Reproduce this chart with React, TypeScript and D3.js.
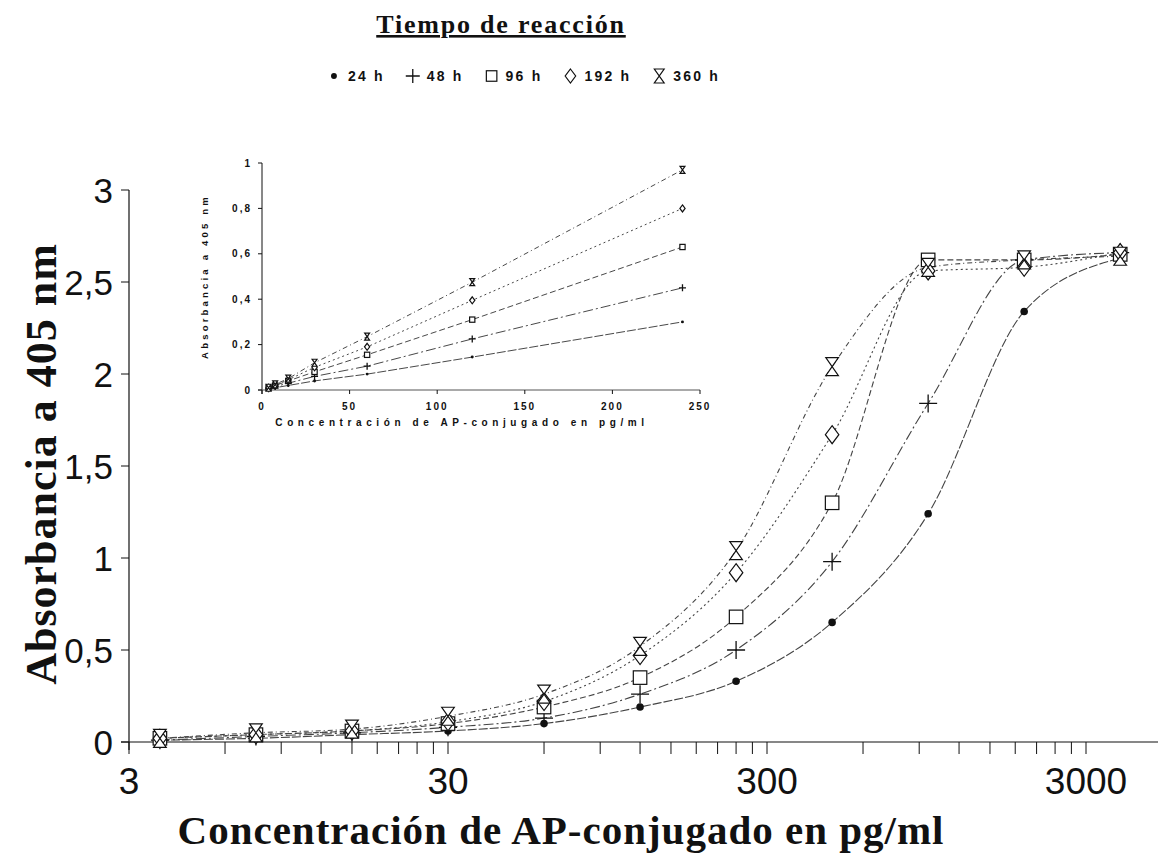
import * as d3 from 'd3';
import React, { useEffect, useRef } from 'react';

// concentraciones (pg/ml) y absorbancias
const concentraciones = [3.75, 7.5, 15, 30, 60, 120, 240, 480, 960, 1920, 3840];
const abs24h = [0.01, 0.02, 0.04, 0.06, 0.1, 0.19, 0.33, 0.65, 1.24, 2.34, 2.63];
const abs48h = [0.01, 0.03, 0.05, 0.08, 0.13, 0.26, 0.5, 0.98, 1.84, 2.62, 2.66];
const abs96h = [0.02, 0.04, 0.06, 0.1, 0.19, 0.35, 0.68, 1.3, 2.62, 2.62, 2.65];
const abs192h = [0.02, 0.04, 0.06, 0.11, 0.22, 0.47, 0.92, 1.67, 2.56, 2.58, 2.66];
const abs360h = [0.02, 0.05, 0.07, 0.14, 0.26, 0.52, 1.04, 2.04, 2.58, 2.62, 2.64];

// grafico insertado (escala lineal)
const concInserto = [3.75, 7.5, 15, 30, 60, 120, 240];
const ins24h = [0.005, 0.01, 0.02, 0.04, 0.07, 0.145, 0.3];
const ins48h = [0.005, 0.015, 0.03, 0.06, 0.105, 0.225, 0.45];
const ins96h = [0.01, 0.02, 0.04, 0.08, 0.155, 0.31, 0.63];
const ins192h = [0.01, 0.02, 0.045, 0.1, 0.19, 0.395, 0.8];
const ins360h = [0.01, 0.025, 0.05, 0.12, 0.235, 0.475, 0.97];

const nombres = ['24 h', '48 h', '96 h', '192 h', '360 h'];
const simbolos = ['dot', 'plus', 'square', 'diamond', 'hourglass'];
const trazos = ['9,2', '10,3,2,3', '6,3', '2,3', '5,3,1,3'];

const xTickValues = [3, 30, 300, 3000];
const xTickLabels = ['3', '30', '300', '3000'];
const yTickValues = [0, 0.5, 1, 1.5, 2, 2.5, 3];
const yTickLabels = ['0', '0,5', '1', '1,5', '2', '2,5', '3'];
const insXTicks = [0, 50, 100, 150, 200, 250];
const insYTickValues = [0, 0.2, 0.4, 0.6, 0.8, 1];
const insYTickLabels = ['0', '0,2', '0,4', '0,6', '0,8', '1'];

const SANS = '"Liberation Sans", Arial, sans-serif';
const SERIF = '"Liberation Serif", "Times New Roman", serif';
const INK = '#111';

const drawSymbol = (g: any, kind: string, x: number, y: number, s: number) => {
  if (kind === 'dot') {
    g.append('circle').attr('cx', x).attr('cy', y).attr('r', s * 0.42).attr('fill', INK);
  } else if (kind === 'plus') {
    g.append('path')
      .attr('d', `M${x - s},${y}H${x + s}M${x},${y - s}V${y + s}`)
      .attr('stroke', INK).attr('stroke-width', 1.3).attr('fill', 'none');
  } else if (kind === 'square') {
    g.append('rect')
      .attr('x', x - s * 0.75).attr('y', y - s * 0.75)
      .attr('width', s * 1.5).attr('height', s * 1.5)
      .attr('stroke', INK).attr('stroke-width', 1.2).attr('fill', 'white');
  } else if (kind === 'diamond') {
    g.append('path')
      .attr('d', `M${x},${y - s}L${x + s * 0.75},${y}L${x},${y + s}L${x - s * 0.75},${y}Z`)
      .attr('stroke', INK).attr('stroke-width', 1.2).attr('fill', 'white');
  } else {
    g.append('path')
      .attr('d', `M${x - s * 0.7},${y - s}H${x + s * 0.7}L${x - s * 0.7},${y + s}H${x + s * 0.7}Z`)
      .attr('stroke', INK).attr('stroke-width', 1.2).attr('fill', 'white');
  }
};

const buildChart = (node: SVGSVGElement) => {
  const svg = d3.select(node);
  svg.selectAll('*').remove();

  const mainSeries = [abs24h, abs48h, abs96h, abs192h, abs360h];
  const insSeries = [ins24h, ins48h, ins96h, ins192h, ins360h];

  // --- grafico principal ---
  const decade = 319;
  const x = d3.scaleLog().domain([3, 5000]).range([129, 129 + decade * Math.log10(5000 / 3)]);
  const y = d3.scaleLinear().domain([0, 3]).range([742, 190]);

  const axes = svg.append('g').attr('stroke', INK).attr('fill', 'none');
  axes.append('line').attr('x1', 129).attr('x2', 129).attr('y1', y(3)).attr('y2', y(0) + 8).attr('stroke-width', 1.2);
  axes.append('line').attr('x1', 121).attr('x2', 1158).attr('y1', y(0)).attr('y2', y(0)).attr('stroke-width', 1.2);

  yTickValues.forEach((v, i) => {
    axes.append('line').attr('x1', 121).attr('x2', 129).attr('y1', y(v)).attr('y2', y(v));
    svg.append('text')
      .attr('x', 113).attr('y', y(v)).attr('dy', '0.36em')
      .attr('text-anchor', 'end')
      .style('font-family', SANS).style('font-size', '35px').attr('fill', INK)
      .text(yTickLabels[i]);
  });

  // marcas menores del eje logaritmico
  const minor: number[] = [];
  [3, 30, 300, 3000].forEach((base) => {
    for (let m = 1; m <= 9; m++) if (base * m <= 5000) minor.push(base * m);
  });
  minor.forEach((v) => {
    if (x(v) > 1158) return;
    axes.append('line').attr('x1', x(v)).attr('x2', x(v)).attr('y1', y(0)).attr('y2', y(0) + 12).attr('stroke-width', 1);
  });

  xTickValues.forEach((v, i) => {
    svg.append('text')
      .attr('x', x(v)).attr('y', 794)
      .attr('text-anchor', 'middle')
      .style('font-family', SANS).style('font-size', '37px').attr('fill', INK)
      .text(xTickLabels[i]);
  });

  const line = d3.line<number>()
    .x((d, i) => x(concentraciones[i]))
    .y((d) => y(d))
    .curve(d3.curveMonotoneX);

  mainSeries.forEach((serie, k) => {
    svg.append('path')
      .attr('d', line(serie))
      .attr('fill', 'none').attr('stroke', '#444').attr('stroke-width', 1.1)
      .attr('stroke-dasharray', trazos[k]);
  });
  mainSeries.forEach((serie, k) => {
    const g = svg.append('g');
    serie.forEach((v, i) => drawSymbol(g, simbolos[k], x(concentraciones[i]), y(v), 9));
  });

  svg.append('text')
    .attr('transform', `translate(56,${y(1.5) - 2}) rotate(-90)`)
    .attr('text-anchor', 'middle')
    .style('font-family', SERIF).style('font-size', '44px').style('font-weight', 'bold')
    .style('letter-spacing', '1px').attr('fill', INK)
    .text('Absorbancia a 405 nm');

  svg.append('text')
    .attr('x', 561).attr('y', 844)
    .attr('text-anchor', 'middle')
    .style('font-family', SERIF).style('font-size', '41px').style('font-weight', 'bold')
    .style('letter-spacing', '1px').attr('fill', INK)
    .text('Concentración de AP-conjugado en pg/ml');

  // --- grafico insertado ---
  const xi = d3.scaleLinear().domain([0, 250]).range([262, 700]);
  const yi = d3.scaleLinear().domain([0, 1]).range([390, 163]);
  const ins = svg.append('g');

  ins.append('line').attr('x1', xi(0)).attr('x2', xi(0)).attr('y1', yi(1)).attr('y2', yi(0) + 4).attr('stroke', INK);
  ins.append('line').attr('x1', xi(0) - 4).attr('x2', xi(250)).attr('y1', yi(0)).attr('y2', yi(0)).attr('stroke', '#555');

  insYTickValues.forEach((v, i) => {
    ins.append('line').attr('x1', xi(0) - 4).attr('x2', xi(0)).attr('y1', yi(v)).attr('y2', yi(v)).attr('stroke', INK);
    ins.append('text')
      .attr('x', xi(0) - 10).attr('y', yi(v)).attr('dy', '0.36em')
      .attr('text-anchor', 'end')
      .style('font-family', SANS).style('font-size', '10px').style('font-weight', 'bold')
      .style('letter-spacing', '2px').attr('fill', INK)
      .text(insYTickLabels[i]);
  });
  insXTicks.forEach((v) => {
    ins.append('line').attr('x1', xi(v)).attr('x2', xi(v)).attr('y1', yi(0)).attr('y2', yi(0) + 4).attr('stroke', INK);
    ins.append('text')
      .attr('x', xi(v)).attr('y', 410)
      .attr('text-anchor', 'middle')
      .style('font-family', SANS).style('font-size', '10px').style('font-weight', 'bold')
      .style('letter-spacing', '2px').attr('fill', INK)
      .text(String(v));
  });

  ins.append('text')
    .attr('x', 462).attr('y', 426)
    .attr('text-anchor', 'middle')
    .style('font-family', SANS).style('font-size', '10px').style('font-weight', 'bold')
    .style('letter-spacing', '4.6px').attr('fill', INK)
    .text('Concentración de AP-conjugado en pg/ml');
  ins.append('text')
    .attr('transform', `translate(208,${yi(0.5)}) rotate(-90)`)
    .attr('text-anchor', 'middle')
    .style('font-family', SANS).style('font-size', '9.5px').style('font-weight', 'bold')
    .style('letter-spacing', '3.2px').attr('fill', INK)
    .text('Absorbancia a 405 nm');

  const lineIns = d3.line<number>()
    .x((d, i) => xi(concInserto[i]))
    .y((d) => yi(d));

  insSeries.forEach((serie, k) => {
    ins.append('path')
      .attr('d', lineIns(serie))
      .attr('fill', 'none').attr('stroke', '#333').attr('stroke-width', 0.9)
      .attr('stroke-dasharray', trazos[k]);
  });
  insSeries.forEach((serie, k) => {
    const g = ins.append('g');
    serie.forEach((v, i) => drawSymbol(g, simbolos[k], xi(concInserto[i]), yi(v), 3.5));
  });

  // --- titulo y leyenda ---
  svg.append('text')
    .attr('x', 501).attr('y', 33)
    .attr('text-anchor', 'middle')
    .style('font-family', SERIF).style('font-size', '26px').style('font-weight', 'bold')
    .style('letter-spacing', '1.8px').style('text-decoration', 'underline').attr('fill', INK)
    .text('Tiempo de reacción');

  const leg = svg.append('g');
  let cx = 0;
  nombres.forEach((n, k) => {
    const g = leg.append('g');
    drawSymbol(g, simbolos[k], cx + 6, 0, 7);
    const t = g.append('text')
      .attr('x', cx + 20).attr('y', 0).attr('dy', '0.36em')
      .style('font-family', SANS).style('font-size', '14px').style('font-weight', 'bold')
      .style('letter-spacing', '2.2px').attr('fill', INK)
      .text(n);
    const w = (t.node() as SVGTextElement).getComputedTextLength();
    cx += 20 + w + 22;
  });
  const total = cx - 22;
  leg.attr('transform', `translate(${524 - total / 2},76)`);
};

const App = () => {
  const ref = useRef<SVGSVGElement>(null);
  useEffect(() => {
    if (ref.current) buildChart(ref.current);
  }, []);
  return (
    <svg
      ref={ref}
      width={1158}
      height={862}
      style={{ position: 'absolute', left: 0, top: 0, background: 'white' }}
    />
  );
};

export default App;
